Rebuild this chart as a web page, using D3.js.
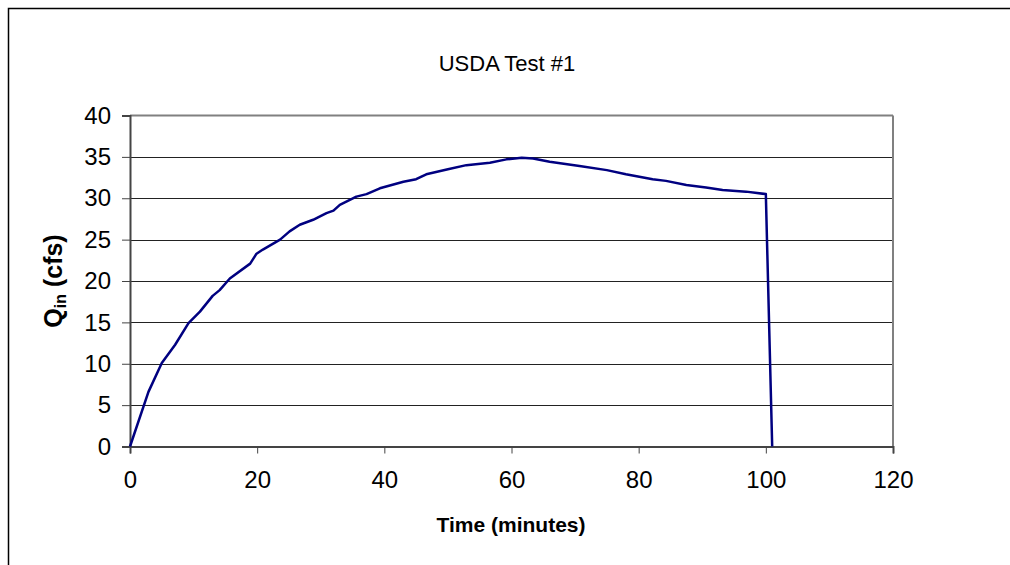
<!DOCTYPE html>
<html>
<head>
<meta charset="utf-8">
<script src="https://cdn.jsdelivr.net/npm/d3@7/dist/d3.min.js"></script>
<style>
html,body{margin:0;padding:0;background:#fff;}
svg{display:block;font-family:Arial,"Liberation Sans",sans-serif;}
</style>
</head>
<body>
<svg id="chart" width="1010" height="565"></svg>
<script>
const timeMin = [0, 2.9, 5, 7.1, 9.2, 11, 13, 14.1, 15.7, 18.9, 19.9, 20.9, 23.6, 25.1, 26.7, 28.8, 30.9, 32, 33, 35.6, 37.2, 39.3, 43, 45, 46.6, 50, 52.9, 56.6, 59.2, 61.6, 63.4, 66, 70.7, 75, 78, 82.2, 84.3, 87.5, 90.6, 93.2, 96.9, 100, 101];
const qin = [0, 6.6, 10.1, 12.3, 14.9, 16.3, 18.2, 18.9, 20.3, 22.1, 23.3, 23.8, 25.0, 26.0, 26.8, 27.4, 28.2, 28.5, 29.2, 30.2, 30.5, 31.2, 32.0, 32.3, 32.9, 33.5, 34.0, 34.3, 34.7, 34.9, 34.8, 34.4, 33.9, 33.4, 32.9, 32.3, 32.1, 31.6, 31.3, 31.0, 30.8, 30.5, 0];
const xTicks = [0, 20, 40, 60, 80, 100, 120];
const yTicks = [0, 5, 10, 15, 20, 25, 30, 35, 40];
const titleText = "USDA Test #1";
const xTitle = "Time (minutes)";

const svg = d3.select("#chart");
const L = 130, R = 893, T = 115.5, B = 446.5;

svg.append("rect").attr("x", 8.5).attr("y", 8.5).attr("width", 1100).attr("height", 700)
  .attr("fill", "#fff").attr("stroke", "#000").attr("stroke-width", 1.5);

const x = d3.scaleLinear().domain([0, 120]).range([L, R]);
const y = d3.scaleLinear().domain([0, 40]).range([B, T]);

// gridlines
svg.append("g").selectAll("line").data(yTicks.filter(d => d > 0 && d < 40)).join("line")
  .attr("x1", L).attr("x2", R).attr("y1", d => Math.round(y(d)) + 0.5).attr("y2", d => Math.round(y(d)) + 0.5)
  .attr("stroke", "#222").attr("stroke-width", 1);

// plot border top/right
svg.append("line").attr("x1", L).attr("x2", R).attr("y1", T).attr("y2", T).attr("stroke", "#808080").attr("stroke-width", 2);
svg.append("line").attr("x1", R).attr("x2", R).attr("y1", T).attr("y2", B).attr("stroke", "#808080").attr("stroke-width", 2);

// axes
const yAxis = d3.axisLeft(y).tickValues(yTicks).tickSize(8).tickPadding(11).tickFormat(d3.format("d"));
const gy = svg.append("g").attr("transform", `translate(${L},0)`).call(yAxis);
gy.select(".domain").attr("stroke", "#444").attr("stroke-width", 2);
gy.selectAll(".tick line").attr("stroke", "#444").attr("stroke-width", 1);
gy.selectAll("text").attr("font-size", 24).attr("fill", "#000").attr("font-family", "Arial,'Liberation Sans',sans-serif");

const xAxis = d3.axisBottom(x).tickValues(xTicks).tickSize(7).tickPadding(17).tickFormat(d3.format("d"));
const gx = svg.append("g").attr("transform", `translate(0,${B})`).call(xAxis);
gx.select(".domain").attr("stroke", "#444").attr("stroke-width", 2);
gx.selectAll(".tick line").attr("stroke", "#444").attr("stroke-width", 1);
gx.selectAll("text").attr("font-size", 24).attr("fill", "#000").attr("font-family", "Arial,'Liberation Sans',sans-serif");

// line
const data = timeMin.map((t, i) => ({t, v: qin[i]}));
svg.append("path").datum(data)
  .attr("fill", "none").attr("stroke", "#000080").attr("stroke-width", 2.5).attr("stroke-linejoin", "round")
  .attr("d", d3.line().x(d => x(d.t)).y(d => y(d.v)));

// titles
svg.append("text").attr("x", 507).attr("y", 71).attr("text-anchor", "middle")
  .attr("font-size", 22).text(titleText);

svg.append("text").attr("x", 511).attr("y", 532).attr("text-anchor", "middle")
  .attr("font-size", 21).attr("font-weight", "bold").text(xTitle);

const yt = svg.append("text").attr("transform", "translate(62,281) rotate(-90)")
  .attr("text-anchor", "middle").attr("font-size", 25).attr("font-weight", "bold");
yt.append("tspan").text("Q");
yt.append("tspan").attr("font-size", 16).attr("dy", 4).text("in");
yt.append("tspan").attr("dy", -4).text(" (cfs)");
</script>
</body>
</html>
